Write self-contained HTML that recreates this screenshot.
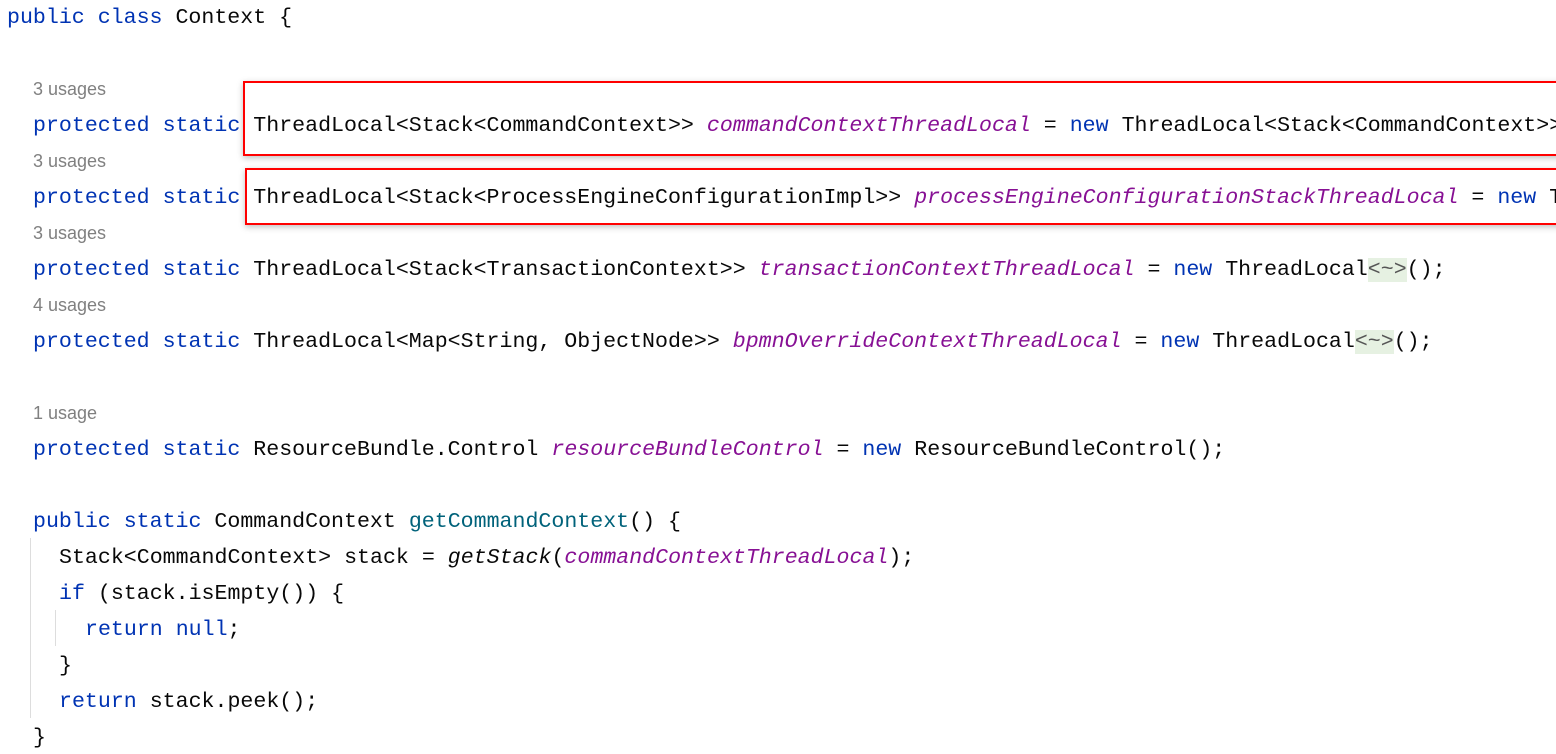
<!DOCTYPE html>
<html><head><meta charset="utf-8"><style>
html,body{margin:0;padding:0;background:#fff;width:1556px;height:754px;overflow:hidden}
#w{position:relative;width:1556px;height:754px;overflow:hidden}
.l{position:absolute;white-space:pre;font-family:"Liberation Mono",monospace;font-size:21.6px;line-height:36px;height:36px;color:#080808}
.u{position:absolute;left:33px;font-family:"Liberation Sans",sans-serif;font-size:18px;line-height:36px;color:#808080}
.k{color:#0033b3}.f{color:#871094;font-style:italic}.m{color:#00627a}.i{font-style:italic}
.d{background:#e6f1e2;color:#555}
.box{position:absolute;border:2px solid #f00;box-shadow:0 2px 6px rgba(0,0,0,.25);box-sizing:border-box}
.g{position:absolute;width:1px;background:#ddd}
</style></head><body><div id="w">
<div class="l" style="left:7px;top:0px"><span class="k">public class</span> Context {</div>
<div class="u" style="top:71px">3 usages</div>
<div class="l" style="left:33px;top:108px"><span class="k">protected static</span> ThreadLocal&lt;Stack&lt;CommandContext&gt;&gt; <span class="f">commandContextThreadLocal</span> = <span class="k">new</span> ThreadLocal&lt;Stack&lt;CommandContext&gt;&gt;();</div>
<div class="u" style="top:143px">3 usages</div>
<div class="l" style="left:33px;top:180px"><span class="k">protected static</span> ThreadLocal&lt;Stack&lt;ProcessEngineConfigurationImpl&gt;&gt; <span class="f">processEngineConfigurationStackThreadLocal</span> = <span class="k">new</span> ThreadLocal</div>
<div class="u" style="top:215px">3 usages</div>
<div class="l" style="left:33px;top:252px"><span class="k">protected static</span> ThreadLocal&lt;Stack&lt;TransactionContext&gt;&gt; <span class="f">transactionContextThreadLocal</span> = <span class="k">new</span> ThreadLocal<span class="d">&lt;~&gt;</span>();</div>
<div class="u" style="top:287px">4 usages</div>
<div class="l" style="left:33px;top:324px"><span class="k">protected static</span> ThreadLocal&lt;Map&lt;String, ObjectNode&gt;&gt; <span class="f">bpmnOverrideContextThreadLocal</span> = <span class="k">new</span> ThreadLocal<span class="d">&lt;~&gt;</span>();</div>
<div class="u" style="top:395px">1 usage</div>
<div class="l" style="left:33px;top:432px"><span class="k">protected static</span> ResourceBundle.Control <span class="f">resourceBundleControl</span> = <span class="k">new</span> ResourceBundleControl();</div>
<div class="l" style="left:33px;top:504px"><span class="k">public static</span> CommandContext <span class="m">getCommandContext</span>() {</div>
<div class="l" style="left:59px;top:540px">Stack&lt;CommandContext&gt; stack = <span class="i">getStack</span>(<span class="f">commandContextThreadLocal</span>);</div>
<div class="l" style="left:59px;top:576px"><span class="k">if</span> (stack.isEmpty()) {</div>
<div class="l" style="left:85px;top:612px"><span class="k">return null</span>;</div>
<div class="l" style="left:59px;top:648px">}</div>
<div class="l" style="left:59px;top:684px"><span class="k">return</span> stack.peek();</div>
<div class="l" style="left:33px;top:720px">}</div>
<div class="g" style="left:30px;top:538px;height:180px"></div>
<div class="g" style="left:55px;top:610px;height:36px"></div>
<div class="box" style="left:243px;top:81px;width:1330px;height:75px"></div>
<div class="box" style="left:245px;top:168px;width:1330px;height:57px"></div>
</div></body></html>
